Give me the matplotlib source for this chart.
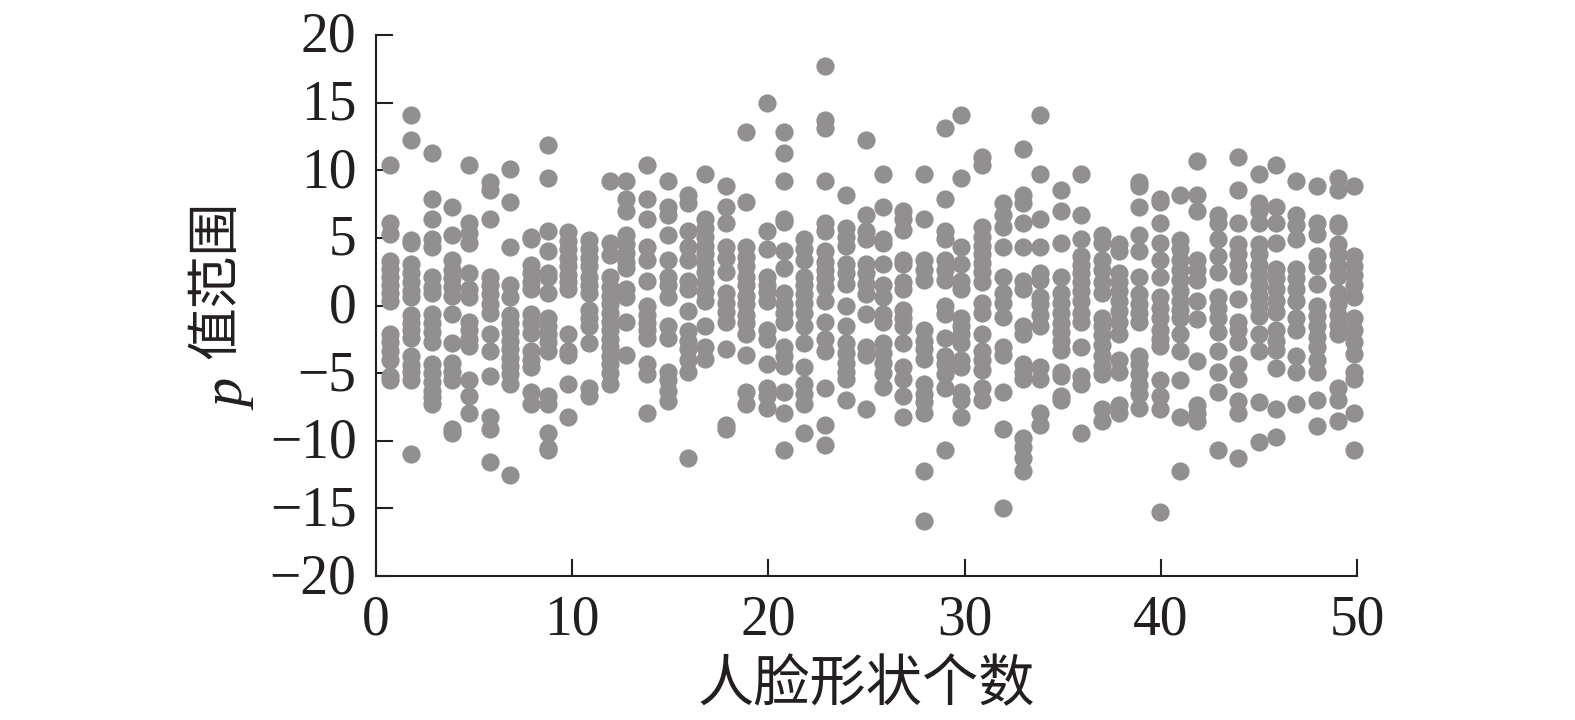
import matplotlib
matplotlib.use('Agg')
import matplotlib.pyplot as plt
from matplotlib.transforms import ScaledTranslation

plt.rcParams['font.family'] = ['Liberation Serif', 'Noto Sans CJK SC']

# column positions
col_x = [0.73, 1.78, 2.84, 3.89, 4.74, 5.80, 6.85, 7.90, 8.75, 9.80,
         10.86, 11.91, 12.76, 13.81, 14.87, 15.92, 16.77, 17.82, 18.87, 19.93,
         20.78, 21.83, 22.88, 23.94, 24.99, 25.83, 26.88, 27.93, 28.99, 29.83,
         30.89, 31.94, 32.99, 33.84, 34.90, 35.95, 37.00, 37.85, 38.90, 39.96,
         40.99, 41.84, 42.90, 43.95, 45.00, 45.85, 46.90, 47.96, 49.01, 49.86]

p01 = [10.4, 6.07, 5.26, 3.3, 2.7, 2.1, 1.5, 0.9, 0.3, -2.1, -2.7, -3.4, -4, -5.2, -5.5]
p02 = [14.05, 12.2, 4.85, 4.6, 3.05, 2.4, 1.75, 1.1, 0.6, -0.7, -1.3, -1.8, -2.4, -3.7, -4.4, -4.9, -5.5, -11]
p03 = [11.3, 7.9, 6.4, 4.9, 4.3, 2.1, 1.35, 0.9, -0.65, -1.3, -1.95, -2.7, -4.3, -5, -5.65, -6.3, -6.8, -7.3]
p04 = [7.3, 5.2, 3.35, 2.65, 2, 1.35, 0.7, -0.6, -2.75, -4.25, -4.9, -5.5, -9.15, -9.45]
p05 = [10.4, 6.07, 5.35, 4.6, 2.4, 1.2, 0.65, -1.25, -1.8, -2.45, -3, -5.5, -6.7, -7.95]
p06 = [9.1, 8.55, 6.4, 2.1, 1.5, 0.85, 0.1, -0.55, -2.1, -3.35, -5.2, -8.25, -9.15, -11.6]
p07 = [10.1, 7.65, 4.3, 1.5, 0.6, -0.7, -1.3, -1.95, -2.6, -3.2, -3.85, -4.5, -5.1, -5.8, -12.5]
p08 = [5.05, 4.95, 3, 2.4, 1.75, 1.25, -0.65, -1.3, -2.05, -3.4, -4, -4.55, -6.4, -7.3]
p09 = [11.9, 9.45, 5.5, 4, 2.4, 2.1, 0.9, -0.95, -1.55, -2.1, -2.7, -3.35, -6.7, -7.3, -9.4, -10.5, -10.7]
p10 = [5.45, 4.8, 4.15, 3.5, 2.9, 2.25, 1.75, 1.25, -2.1, -3.35, -3.65, -5.8, -8.25]
p11 = [4.85, 4.15, 3.5, 2.9, 2.1, 1.5, 0.9, -0.35, -0.95, -1.5, -2.75, -6.1, -6.7]
p12 = [9.2, 4.6, 3.7, 2.1, 1.35, 0.7, 0.1, -0.55, -1.2, -1.8, -2.45, -3.1, -3.7, -4.35, -5, -5.8]
p13 = [9.2, 7.9, 7, 5.2, 4.55, 3.9, 3.25, 2.75, 1.2, 0.65, -1.25, -3.65]
p14 = [10.4, 7.9, 6.4, 4.3, 3.35, 1.8, -0.05, -0.7, -1.3, -1.8, -2.4, -4.3, -5.1, -7.95]
p15 = [9.2, 7.3, 6.7, 5.2, 3.35, 2.1, 1.5, 0.6, -1.5, -2.4, -4.9, -5.5, -6.3, -7.05]
p16 = [8.2, 7.6, 5.5, 4.3, 3.35, 1.8, 1.25, -0.4, -1.9, -2.6, -3.2, -4, -4.9, -11.3]
p17 = [9.75, 6.4, 5.7, 5.05, 4.4, 3.8, 3.15, 2.5, 1.75, 1, 0.35, -1.5, -3.05, -3.95]
p18 = [8.85, 7.3, 6.1, 4.3, 3.5, 2.45, 0.9, 0.2, -0.5, -1.2, -3.2, -8.85, -9.15]
p19 = [12.8, 7.65, 4.3, 3.6, 2.95, 2.1, 1.5, 0.7, 0.1, -0.7, -1.3, -2.1, -3.65, -6.4, -7.3]
p20 = [14.95, 5.5, 4.15, 2.1, 1.5, 1, 0.35, -1.8, -2.45, -4.35, -6.1, -6.7, -7.55]
p21 = [12.8, 11.3, 9.2, 6.4, 6.15, 4, 2.75, 0.9, 0.1, -0.55, -1.2, -3.05, -3.75, -4.5, -6.4, -7.95, -10.7]
p22 = [4.9, 4.15, 3.4, 2.1, 1.5, 0.85, 0.2, -0.55, -1.5, -2.75, -4.55, -5.8, -6.55, -7.3, -9.45]
p23 = [17.7, 13.7, 13.1, 9.2, 6.07, 5.5, 4, 3.25, 2.65, 2, 1.35, 0.35, -1.2, -2.45, -3.35, -6.1, -8.85, -10.35]
p24 = [8.2, 5.75, 5.05, 4.4, 3.05, 2.4, 1.6, -0.05, -1.5, -2.75, -3.5, -4.25, -4.9, -5.45, -7]
p25 = [12.2, 6.7, 5.5, 4.9, 3.05, 2.4, 1.6, 0.85, -0.65, -3.05, -3.65, -7.65]
p26 = [9.75, 7.3, 4.9, 4.6, 3.05, 1.5, 0.6, -0.65, -1.2, -2.75, -3.5, -4.25, -5, -6]
p27 = [7, 6.4, 5.55, 3.35, 3.05, 1.75, 1.25, -0.35, -0.95, -1.5, -2.75, -4.55, -5.45, -6.7, -8.25]
p28 = [9.75, 6.4, 3.35, 2.65, 1.9, -1.8, -2.6, -3.2, -3.95, -5.8, -6.55, -7.15, -7.95, -12.2, -15.9]
p29 = [13.15, 7.9, 5.5, 4.9, 3.35, 2.65, 1.9, -0.05, -0.6, -2.4, -3.7, -4.35, -5.1, -6.1, -10.65]
p30 = [14.05, 9.45, 4.3, 3.05, 1.8, 1.25, -0.95, -1.55, -2.1, -2.75, -4, -4.55, -6.4, -7, -8.25]
p31 = [11, 10.4, 5.8, 5.05, 4.4, 3.8, 3.15, 2.5, 1.75, 0.2, -0.55, -2.1, -3.35, -4, -4.8, -6.1, -7]
p32 = [7.6, 6.7, 5.8, 4.3, 2.1, 0.9, 0.2, -0.85, -3.05, -3.65, -6.4, -9.15, -15]
p33 = [11.6, 8.2, 7.6, 6.1, 4.3, 1.8, 1.25, -1.55, -2.1, -4.3, -4.9, -5.45, -9.8, -10.45, -11.25, -12.2]
p34 = [14.05, 9.75, 6.4, 4.3, 2.4, 1.9, 0.6, 0.1, -0.7, -1.5, -4.55, -5.45, -7.95, -8.85]
p35 = [8.55, 7, 4.6, 2.1, 0.9, 0.2, -0.55, -1.3, -1.95, -2.6, -3.3, -4.9, -5.2, -6.7, -7]
p36 = [9.75, 6.7, 4.9, 3.65, 3, 2.4, 1.75, 1.1, 0.35, -0.55, -1.2, -3.05, -5.2, -5.8, -9.45]
p37 = [5.2, 4.6, 3.35, 2.65, 1.75, 0.9, -0.95, -1.55, -2.2, -2.95, -3.75, -4.5, -5.1, -7.65, -8.55]
p38 = [4.55, 4, 2.4, 1.75, 1.1, 0.35, -0.4, -1.2, -2.1, -4, -4.9, -7.35, -7.95]
p39 = [9.1, 8.85, 7.3, 5.2, 4.05, 2.1, 0.85, 0.1, -0.55, -1.2, -3.7, -4.35, -5.1, -5.9, -6.55, -7.6]
p40 = [7.9, 7.65, 6.1, 4.6, 3.35, 2.1, 0.6, -0.15, -0.95, -1.8, -2.45, -3, -5.5, -6.7, -7.65, -15.3]
p41 = [8.2, 4.85, 4.15, 3.4, 2.65, 1.9, 1.1, 0.35, -0.3, -0.95, -2.1, -3.35, -5.5, -8.25, -12.2]
p42 = [10.7, 8.2, 7, 3.35, 2.65, 1.9, 0.3, -1, -4.1, -7.35, -7.95, -8.55]
p43 = [6.7, 6.1, 4.9, 3.65, 2.45, 0.6, -0.15, -0.95, -1.95, -3.35, -4.9, -6.4, -10.65]
p44 = [11, 8.55, 6.1, 4.55, 3.8, 3, 2.15, 0.45, -1.25, -1.8, -2.7, -4.3, -5.45, -7.05, -7.95, -11.3]
p45 = [9.75, 7.6, 7, 6.1, 4.55, 3.8, 3, 2.25, 1.5, 0.7, -0.05, -0.8, -2.1, -3.35, -7.1, -10.1]
p46 = [10.4, 7.3, 6.1, 4.6, 2.7, 2, 1.25, 0.35, -0.5, -1.8, -2.6, -3.3, -4.65, -7.65, -9.75]
p47 = [9.2, 6.7, 5.95, 4.9, 2.7, 2, 1.25, 0.35, -0.95, -1.8, -3.7, -4.9, -7.3]
p48 = [8.85, 6.07, 5.25, 3.65, 2.9, 1.6, -0.05, -0.8, -1.55, -2.35, -3.1, -4, -4.9, -7, -8.9]
p49 = [9.45, 8.55, 6.07, 5.9, 4.55, 3.8, 2.95, 2.15, 0.9, 0.1, -0.7, -1.45, -2.1, -6.1, -7, -8.55]
p50 = [8.85, 3.65, 2.95, 2.25, 1.5, 0.65, -0.95, -1.8, -2.7, -3.6, -4.95, -5.45, -7.95, -10.65]

columns = [p01, p02, p03, p04, p05, p06, p07, p08, p09, p10,
           p11, p12, p13, p14, p15, p16, p17, p18, p19, p20,
           p21, p22, p23, p24, p25, p26, p27, p28, p29, p30,
           p31, p32, p33, p34, p35, p36, p37, p38, p39, p40,
           p41, p42, p43, p44, p45, p46, p47, p48, p49, p50]

x_ticks = [0, 10, 20, 30, 40, 50]
y_ticks = [-20, -15, -10, -5, 0, 5, 10, 15, 20]
y_labels = ['\u221220', '\u221215', '\u221210', '\u22125', '0', '5', '10', '15', '20']

W, H = 1575, 720
ink = '#231f20'

fig = plt.figure(figsize=(W / 100, H / 100), dpi=100)
ax = fig.add_axes([376 / W, 1 - 576 / H, 981 / W, 541 / H])

for x, ys in zip(col_x, columns):
    ax.scatter([x] * len(ys), ys, s=172, color='#918f90', linewidths=0, clip_on=False, zorder=3)

ax.set_xlim(0, 50)
ax.set_ylim(-20, 20)
ax.set_xticks(x_ticks)
ax.set_yticks(y_ticks)
ax.set_yticklabels(y_labels)
ax.tick_params(direction='in', length=12.5, width=1.5, color=ink, labelcolor=ink, labelsize=40)
ax.tick_params(axis='y', pad=14)
ax.tick_params(axis='x', pad=13)
ax.spines['top'].set_visible(False)
ax.spines['right'].set_visible(False)
for side in ['left', 'bottom']:
    ax.spines[side].set_linewidth(1.5)
    ax.spines[side].set_color(ink)

# y labels sit a little higher than the default centering
shift = ScaledTranslation(0, 3 / 100, fig.dpi_scale_trans)
for lab in ax.get_yticklabels():
    lab.set_transform(lab.get_transform() + shift)

fig.text(866 / W, 1 - 687 / H, '人脸形状个数', fontsize=40.5, color=ink, ha='center', va='center')
fig.text(231 / W, 1 - 395 / H, 'p', fontsize=42, style='italic', color=ink, rotation=90, ha='center', va='center')
fig.text(218 / W, 1 - 280 / H, '值范围', fontsize=38, color=ink, rotation=90, ha='center', va='center')

fig.savefig('out.png', dpi=100)
